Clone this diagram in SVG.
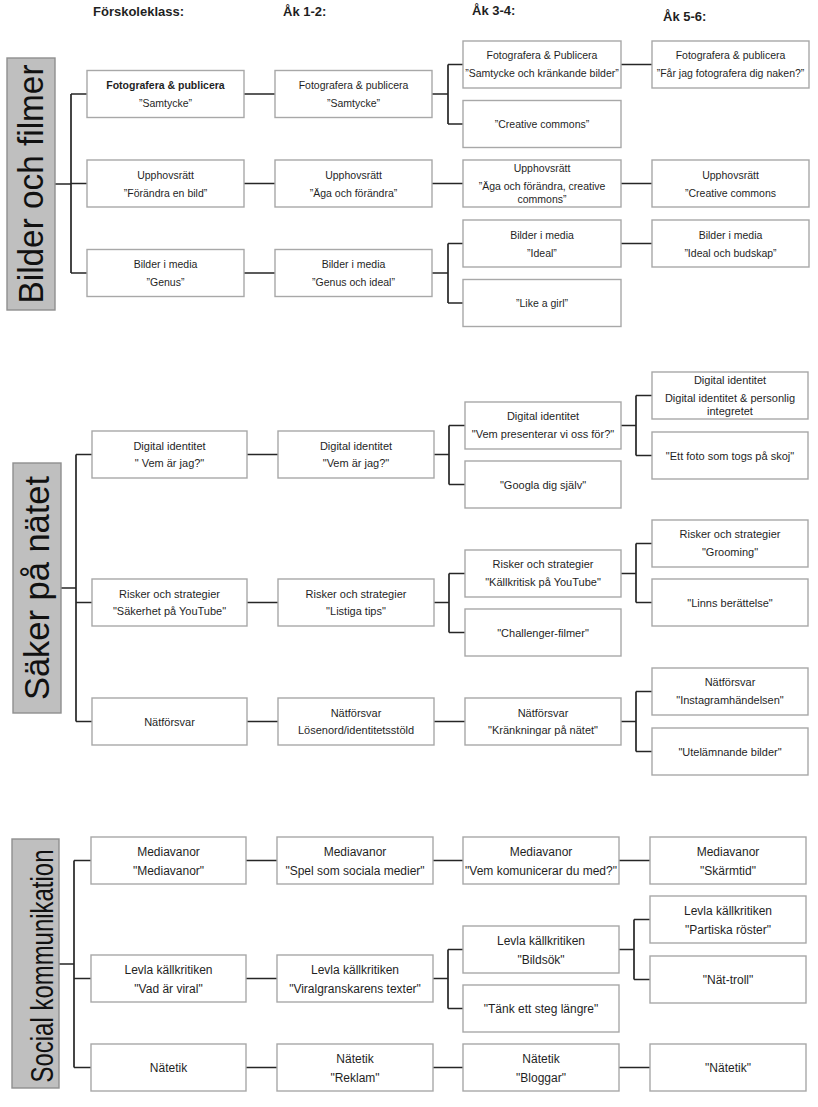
<svg xmlns="http://www.w3.org/2000/svg" width="818" height="1107" viewBox="0 0 818 1107">
<style>
.bg{fill:#fff}
.box{fill:#fff;stroke:#a8a8a8;stroke-width:1.4}
.lbl{fill:#bfbfbf;stroke:#8f8f8f;stroke-width:1.4}
.conn{fill:none;stroke:#262626;stroke-width:1.7}
text{font-family:"Liberation Sans",Arial,sans-serif;fill:#1f1f1f;text-anchor:middle}
.hd{font-weight:bold;font-size:13px;text-anchor:start}
.s1{font-size:10.5px}
.s2{font-size:11px}
.s3{font-size:12px}
.b{font-weight:bold}
.big{fill:#111}
</style>
<rect class="bg" x="0" y="0" width="818" height="1107"/>

<g id="headers">
<text class="hd" x="93" y="16">Förskoleklass:</text>
<text class="hd" x="283" y="16">Åk 1-2:</text>
<text class="hd" x="472" y="15">Åk 3-4:</text>
<text class="hd" x="663" y="21">Åk 5-6:</text>
</g>

<g id="connectors">
<path class="conn" d="M55,184H71M71,94V273M71,94H87M71,183.5H87M71,273H87
M244,94H275M244,183.5H275M244,273H275
M432,94H448M448,64.5V124M448,64.5H463M448,124H463
M432,183.5H463
M432,273H448M448,243.5V303M448,243.5H463M448,303H463
M621,64.5H652M621,183.5H652M621,243.5H652"/>
<path class="conn" d="M61,588H76M76,454.5V721.5M76,454.5H92M76,602.5H92M76,721.5H92
M247,454.5H278M247,602.5H278M247,721.5H278
M434,454.5H449M449,425.5V484.5M449,425.5H465M449,484.5H465
M434,602.5H449M449,573.5V632.5M449,573.5H465M449,632.5H465
M434,721.5H465
M621,425.5H636M636,395.5V455.5M636,395.5H652M636,455.5H652
M621,573.5H636M636,543.5V602.5M636,543.5H652M636,602.5H652
M621,721.5H636M636,691.5V751.5M636,691.5H652M636,751.5H652"/>
<path class="conn" d="M59,964H74M74,860.5V1067.5M74,860.5H91M74,978.5H91M74,1067.5H91
M246,860.5H277M246,978.5H277M246,1067.5H277
M433,860.5H463M433,978.5H448M448,949.5V1008.5M448,949.5H463M448,1008.5H463M433,1067.5H463
M619,860.5H650M619,949.5H634M634,919.5V979.5M634,919.5H650M634,979.5H650M619,1067.5H650"/>
</g>

<!-- Section 1 -->
<g id="lbl-bilder">
<rect class="lbl" x="7" y="58" width="48" height="252"/>
<text class="big" transform="translate(43,184) rotate(-90)" font-size="35" textLength="239" lengthAdjust="spacingAndGlyphs">Bilder och filmer</text>
</g>
<g id="s1c1r1"><rect class="box" x="87" y="70.5" width="157" height="47"/><text class="s1 b" x="165.5" y="89">Fotografera &amp; publicera</text><text class="s1" x="165.5" y="107">”Samtycke”</text></g>
<g id="s1c1r2"><rect class="box" x="87" y="160" width="157" height="47"/><text class="s1" x="165.5" y="178.5">Upphovsrätt</text><text class="s1" x="165.5" y="196.5">”Förändra en bild”</text></g>
<g id="s1c1r3"><rect class="box" x="87" y="249.5" width="157" height="47"/><text class="s1" x="165.5" y="268">Bilder i media</text><text class="s1" x="165.5" y="286">”Genus”</text></g>
<g id="s1c2r1"><rect class="box" x="275" y="70.5" width="157" height="47"/><text class="s1" x="353.5" y="89">Fotografera &amp; publicera</text><text class="s1" x="353.5" y="107">”Samtycke”</text></g>
<g id="s1c2r2"><rect class="box" x="275" y="160" width="157" height="47"/><text class="s1" x="353.5" y="178.5">Upphovsrätt</text><text class="s1" x="353.5" y="196.5">”Äga och förändra”</text></g>
<g id="s1c2r3"><rect class="box" x="275" y="249.5" width="157" height="47"/><text class="s1" x="353.5" y="268">Bilder i media</text><text class="s1" x="353.5" y="286">”Genus och ideal”</text></g>
<g id="s1c3a"><rect class="box" x="463" y="41" width="158" height="47"/><text class="s1" x="542" y="59">Fotografera &amp; Publicera</text><text class="s1" x="542" y="77">”Samtycke och kränkande bilder”</text></g>
<g id="s1c3b"><rect class="box" x="463" y="100.5" width="158" height="47"/><text class="s1" x="542" y="128">”Creative commons”</text></g>
<g id="s1c3c"><rect class="box" x="463" y="160" width="158" height="47"/><text class="s1" x="542" y="172">Upphovsrätt</text><text class="s1" x="542" y="190">”Äga och förändra, creative</text><text class="s1" x="542" y="203">commons”</text></g>
<g id="s1c3d"><rect class="box" x="463" y="220" width="158" height="47"/><text class="s1" x="542" y="238.5">Bilder i media</text><text class="s1" x="542" y="256.5">”Ideal”</text></g>
<g id="s1c3e"><rect class="box" x="463" y="279.5" width="158" height="47"/><text class="s1" x="542" y="307">”Like a girl”</text></g>
<g id="s1c4a"><rect class="box" x="652" y="41" width="157" height="47"/><text class="s1" x="730.5" y="59">Fotografera &amp; publicera</text><text class="s1" x="730.5" y="77">”Får jag fotografera dig naken?”</text></g>
<g id="s1c4b"><rect class="box" x="652" y="160" width="157" height="47"/><text class="s1" x="730.5" y="178.5">Upphovsrätt</text><text class="s1" x="730.5" y="196.5">”Creative commons</text></g>
<g id="s1c4c"><rect class="box" x="652" y="220" width="157" height="47"/><text class="s1" x="730.5" y="238.5">Bilder i media</text><text class="s1" x="730.5" y="256.5">”Ideal och budskap”</text></g>

<!-- Section 2 -->
<g id="lbl-saker">
<rect class="lbl" x="13" y="463" width="48" height="250"/>
<text class="big" transform="translate(49,588) rotate(-90)" font-size="35" textLength="224" lengthAdjust="spacingAndGlyphs">Säker på nätet</text>
</g>
<g id="s2c1a"><rect class="box" x="92" y="431" width="155" height="47"/><text class="s2" x="169.5" y="450">Digital identitet</text><text class="s2" x="169.5" y="467">" Vem är jag?"</text></g>
<g id="s2c1b"><rect class="box" x="92" y="579" width="155" height="47"/><text class="s2" x="169.5" y="598">Risker och strategier</text><text class="s2" x="169.5" y="615">"Säkerhet på YouTube"</text></g>
<g id="s2c1c"><rect class="box" x="92" y="698" width="155" height="47"/><text class="s2" x="169.5" y="725.5">Nätförsvar</text></g>
<g id="s2c2a"><rect class="box" x="278" y="431" width="156" height="47"/><text class="s2" x="356" y="450">Digital identitet</text><text class="s2" x="356" y="467">"Vem är jag?"</text></g>
<g id="s2c2b"><rect class="box" x="278" y="579" width="156" height="47"/><text class="s2" x="356" y="598">Risker och strategier</text><text class="s2" x="356" y="615">"Listiga tips"</text></g>
<g id="s2c2c"><rect class="box" x="278" y="698" width="156" height="47"/><text class="s2" x="356" y="717">Nätförsvar</text><text class="s2" x="356" y="734">Lösenord/identitetsstöld</text></g>
<g id="s2c3a"><rect class="box" x="465" y="402" width="156" height="47"/><text class="s2" x="543" y="420">Digital identitet</text><text class="s2" x="543" y="438">"Vem presenterar vi oss för?"</text></g>
<g id="s2c3b"><rect class="box" x="465" y="461" width="156" height="47"/><text class="s2" x="543" y="488.5">"Googla dig själv"</text></g>
<g id="s2c3c"><rect class="box" x="465" y="550" width="156" height="47"/><text class="s2" x="543" y="568">Risker och strategier</text><text class="s2" x="543" y="586">"Källkritisk på YouTube"</text></g>
<g id="s2c3d"><rect class="box" x="465" y="609" width="156" height="47"/><text class="s2" x="543" y="636.5">"Challenger-filmer"</text></g>
<g id="s2c3e"><rect class="box" x="465" y="698" width="156" height="47"/><text class="s2" x="543" y="717">Nätförsvar</text><text class="s2" x="543" y="734">"Kränkningar på nätet"</text></g>
<g id="s2c4a"><rect class="box" x="652" y="372" width="156" height="47"/><text class="s2" x="730" y="384">Digital identitet</text><text class="s2" x="730" y="402">Digital identitet &amp; personlig</text><text class="s2" x="730" y="414.5">integretet</text></g>
<g id="s2c4b"><rect class="box" x="652" y="432" width="156" height="47"/><text class="s2" x="730" y="459.5">"Ett foto som togs på skoj"</text></g>
<g id="s2c4c"><rect class="box" x="652" y="520" width="156" height="47"/><text class="s2" x="730" y="538">Risker och strategier</text><text class="s2" x="730" y="556">"Grooming"</text></g>
<g id="s2c4d"><rect class="box" x="652" y="579" width="156" height="47"/><text class="s2" x="730" y="606.5">"Linns berättelse"</text></g>
<g id="s2c4e"><rect class="box" x="652" y="668" width="156" height="47"/><text class="s2" x="730" y="686">Nätförsvar</text><text class="s2" x="730" y="704">"Instagramhändelsen"</text></g>
<g id="s2c4f"><rect class="box" x="652" y="728" width="156" height="47"/><text class="s2" x="730" y="755.5">"Utelämnande bilder"</text></g>

<!-- Section 3 -->
<g id="lbl-social">
<rect class="lbl" x="12" y="839" width="47" height="249"/>
<text class="big" transform="translate(53,966) rotate(-90)" font-size="31" textLength="233" lengthAdjust="spacingAndGlyphs">Social kommunikation</text>
</g>
<g id="s3c1a"><rect class="box" x="91" y="837" width="155" height="47"/><text class="s3" x="168.5" y="855.5">Mediavanor</text><text class="s3" x="168.5" y="874.5">"Mediavanor"</text></g>
<g id="s3c1b"><rect class="box" x="91" y="955" width="155" height="47"/><text class="s3" x="168.5" y="973.5">Levla källkritiken</text><text class="s3" x="168.5" y="992.5">"Vad är viral"</text></g>
<g id="s3c1c"><rect class="box" x="91" y="1044" width="155" height="47"/><text class="s3" x="168.5" y="1071.5">Nätetik</text></g>
<g id="s3c2a"><rect class="box" x="277" y="837" width="156" height="47"/><text class="s3" x="355" y="855.5">Mediavanor</text><text class="s3" x="355" y="874.5">"Spel som sociala medier"</text></g>
<g id="s3c2b"><rect class="box" x="277" y="955" width="156" height="47"/><text class="s3" x="355" y="973.5">Levla källkritiken</text><text class="s3" x="355" y="992.5">"Viralgranskarens texter"</text></g>
<g id="s3c2c"><rect class="box" x="277" y="1044" width="156" height="47"/><text class="s3" x="355" y="1062.5">Nätetik</text><text class="s3" x="355" y="1082">"Reklam"</text></g>
<g id="s3c3a"><rect class="box" x="463" y="837" width="156" height="47"/><text class="s3" x="541" y="855.5">Mediavanor</text><text class="s3" x="541" y="874.5">"Vem komunicerar du med?"</text></g>
<g id="s3c3b"><rect class="box" x="463" y="926" width="156" height="47"/><text class="s3" x="541" y="944.5">Levla källkritiken</text><text class="s3" x="541" y="963.5">"Bildsök"</text></g>
<g id="s3c3c"><rect class="box" x="463" y="985" width="156" height="47"/><text class="s3" x="541" y="1013">"Tänk ett steg längre"</text></g>
<g id="s3c3d"><rect class="box" x="463" y="1044" width="156" height="47"/><text class="s3" x="541" y="1062.5">Nätetik</text><text class="s3" x="541" y="1082">"Bloggar"</text></g>
<g id="s3c4a"><rect class="box" x="650" y="837" width="156" height="47"/><text class="s3" x="728" y="855.5">Mediavanor</text><text class="s3" x="728" y="874.5">"Skärmtid"</text></g>
<g id="s3c4b"><rect class="box" x="650" y="896" width="156" height="47"/><text class="s3" x="728" y="914.5">Levla källkritiken</text><text class="s3" x="728" y="933.5">"Partiska röster"</text></g>
<g id="s3c4c"><rect class="box" x="650" y="956" width="156" height="47"/><text class="s3" x="728" y="984">"Nät-troll"</text></g>
<g id="s3c4d"><rect class="box" x="650" y="1044" width="156" height="47"/><text class="s3" x="728" y="1072">"Nätetik"</text></g>
</svg>
